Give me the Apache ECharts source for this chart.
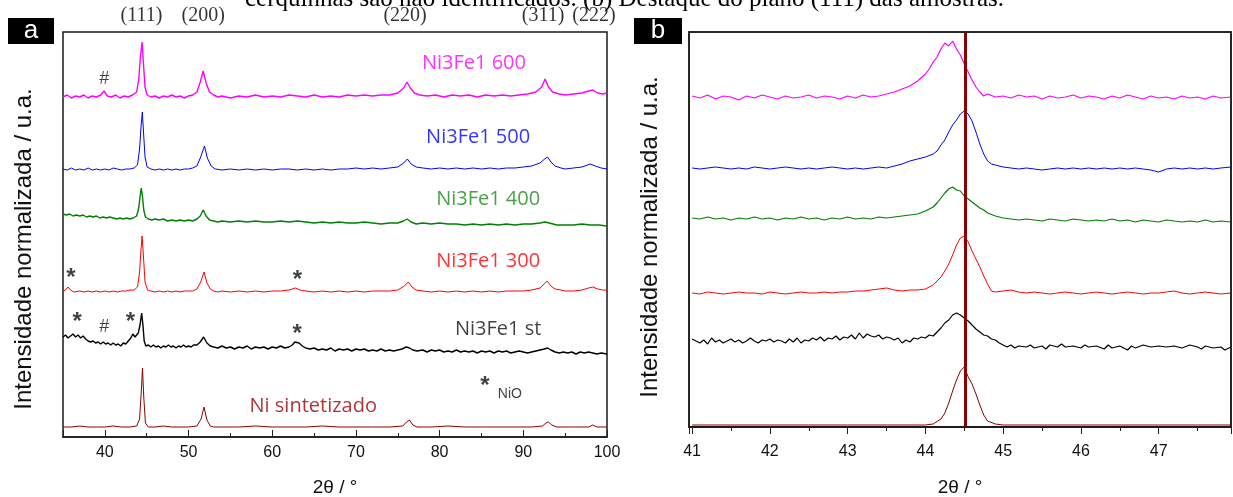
<!DOCTYPE html>
<html>
<head>
<meta charset="utf-8">
<script src="https://cdn.jsdelivr.net/npm/echarts@6/dist/echarts.min.js"></script>
<style>
  html, body { margin: 0; padding: 0; background: #fff; }
  #chart { width: 1233px; height: 497px; }
</style>
</head>
<body>
<div id="chart"></div>
<script>
// ---- panel a : full patterns (2theta, normalised intensity + offset) ----
var m600A = [[35,340],[35.5,342],[36,339],[36.5,341],[37,340],[37.5,342],[38,339],[38.5,341],[39,340],[39.5,342],[39.9,346],[40.3,341],[40.8,340],[41.3,342],[41.8,339],[42.3,341],[42.8,340],[43.3,342],[43.8,345],[44.05,358],[44.25,380],[44.45,395],[44.6,375],[44.8,350],[45.05,342],[45.5,340],[46,341],[46.5,339],[47,341],[47.5,340],[48,342],[48.5,340],[49,341],[49.5,339],[50,341],[50.5,342],[51,345],[51.4,355],[51.75,366],[52.1,354],[52.5,345],[53,342],[53.5,340],[54,341],[55,339],[56,341],[57,340],[58,342],[59,340],[60,341],[61,340],[62,342],[63,341],[64,340],[65,342],[66,340],[67,341],[68,340],[69,342],[70,341],[71,342],[72,341],[73,342],[74,342],[75,344],[75.7,349],[76.1,355],[76.5,349],[77,344],[77.6,342],[78.5,341],[79.5,342],[80.5,340],[81.5,342],[82.5,341],[83.5,342],[84.5,340],[85.5,342],[86.5,341],[87.5,342],[88.5,341],[89.5,342],[90.5,343],[91.5,345],[92.2,350],[92.6,358],[93,350],[93.5,345],[94.3,343],[95,342],[96,343],[97,344],[97.8,346],[98.3,347],[98.9,344],[99.5,343],[100,344]];
var b500A = [[35,268],[35.5,267],[36,269],[36.5,267],[37,268],[37.5,267],[38,269],[38.5,267],[39,268],[39.5,267],[40,268],[40.5,267],[41,269],[41.5,268],[42,267],[42.5,268],[43,268],[43.5,269],[43.9,272],[44.15,288],[44.32,310],[44.48,325],[44.62,305],[44.8,280],[45.05,270],[45.5,268],[46,267],[46.5,268],[47,267],[47.5,268],[48,267],[48.5,268],[49,267],[49.5,268],[50,268],[50.5,269],[51,271],[51.45,280],[51.9,291],[52.25,279],[52.7,271],[53.2,268],[54,267],[55,268],[56,267],[57,268],[58,267],[59,268],[60,267],[61,268],[62,268],[63,267],[64,268],[65,267],[66,268],[67,267],[68,268],[69,268],[70,269],[71,268],[72,269],[73,268],[74,269],[75,270],[75.7,274],[76.15,278],[76.6,273],[77.2,270],[78,269],[79,268],[80,269],[81,268],[82,269],[83,268],[84,269],[85,268],[86,269],[87,268],[88,269],[89,269],[90,270],[91,271],[92,274],[92.55,278],[92.9,280],[93.3,275],[93.8,271],[94.5,269],[95,268],[96,269],[97,270],[98,273],[98.6,271],[99.3,269],[100,268]];
var g400A = [[35,223],[35.4,222],[35.8,223],[36.2,221],[36.6,222],[37,221],[37.4,222],[37.8,220],[38.2,221],[38.6,220],[39,221],[39.4,219],[39.8,220],[40.2,219],[40.6,220],[41,219],[41.4,218],[41.8,219],[42.2,218],[42.6,219],[43,218],[43.4,219],[43.8,221],[44.05,229],[44.2,240],[44.35,249],[44.5,240],[44.65,227],[44.85,220],[45.2,218],[45.6,217],[46,218],[46.5,217],[47,218],[47.5,216],[48,217],[48.5,216],[49,217],[49.5,216],[50,217],[50.5,216],[51,218],[51.4,221],[51.75,227],[52.1,221],[52.5,217],[53,216],[53.5,215],[54,216],[55,215],[56,216],[57,215],[58,216],[59,215],[60,215],[61,216],[62,215],[63,216],[64,215],[65,214],[66,215],[67,214],[68,215],[69,214],[70,214],[71,215],[72,214],[73,213],[74,214],[75,214],[75.7,216],[76.1,218],[76.6,215],[77.2,213],[78,214],[79,213],[80,214],[81,213],[82,213],[83,212],[84,213],[85,212],[86,213],[87,212],[88,213],[89,212],[90,213],[91,213],[92,214],[92.6,215],[93.1,214],[94,212],[95,212],[96,212],[97,213],[98,212],[99,212],[100,211]];
var r300A = [[35,146],[35.3,147],[35.6,150],[35.9,147],[36.3,145],[37,146],[37.5,145],[38,146],[38.5,145],[39,146],[39.5,145],[40,146],[40.5,145],[41,146],[41.5,145],[42,146],[42.5,146],[43,147],[43.5,147],[43.9,150],[44.15,165],[44.3,185],[44.45,201],[44.6,182],[44.8,155],[45.1,147],[45.5,146],[46,145],[46.5,146],[47,145],[47.5,146],[48,145],[48.5,146],[49,145],[49.5,146],[50,146],[50.5,146],[51,148],[51.45,155],[51.85,165],[52.2,154],[52.6,148],[53,146],[53.5,145],[54,146],[55,145],[56,146],[57,145],[58,146],[59,145],[60,146],[61,146],[62,147],[62.8,149],[63.3,147],[64,146],[65,145],[66,146],[67,145],[68,146],[69,145],[70,146],[71,145],[72,146],[73,146],[74,146],[75,147],[75.8,151],[76.25,155],[76.7,150],[77.2,147],[78,146],[79,145],[80,146],[81,145],[82,146],[83,145],[84,146],[85,145],[86,146],[87,145],[88,146],[89,146],[90,146],[91,147],[92,149],[92.5,153],[92.85,156],[93.3,151],[93.8,148],[94.5,147],[95,146],[96,146],[97,147],[97.8,149],[98.3,150],[98.9,148],[99.5,147],[100,147]];
var stA = [[35,100],[35.3,102],[35.6,99],[35.9,101],[36.2,103],[36.5,100],[36.8,102],[37.1,99],[37.4,101],[37.7,98],[38,96],[38.3,95],[38.6,96],[38.9,94],[39.2,95],[39.5,93],[39.8,95],[40.1,93],[40.4,94],[40.7,92],[41,94],[41.3,92],[41.6,93],[41.9,91],[42.2,94],[42.5,93],[42.8,96],[43.1,99],[43.35,103],[43.6,100],[43.8,101],[44.0,104],[44.2,112],[44.4,124],[44.55,112],[44.7,96],[44.9,91],[45.2,92],[45.5,90],[45.8,92],[46.1,90],[46.4,91],[46.7,89],[47,91],[47.3,90],[47.6,92],[47.9,90],[48.2,91],[48.5,89],[48.8,91],[49.1,90],[49.4,92],[49.7,90],[50,91],[50.3,90],[50.6,92],[51,92],[51.4,95],[51.8,100],[52.2,94],[52.6,91],[53,90],[53.5,89],[54,91],[54.5,89],[55,90],[55.5,88],[56,90],[56.5,89],[57,91],[57.5,88],[58,90],[58.5,89],[59,90],[59.5,88],[60,90],[60.5,89],[61,91],[61.5,89],[62,90],[62.4,92],[62.7,95],[62.9,93],[63.2,94],[63.6,91],[64,89],[64.5,88],[65,89],[65.5,87],[66,88],[66.5,87],[67,89],[67.5,86],[68,88],[68.5,87],[69,88],[69.5,86],[70,88],[70.5,87],[71,88],[71.5,86],[72,87],[72.5,86],[73,88],[73.5,86],[74,87],[74.5,86],[75,87],[75.5,88],[76,90],[76.4,89],[76.8,87],[77.3,86],[78,87],[78.5,85],[79,87],[79.5,86],[80,87],[80.5,85],[81,86],[81.5,85],[82,87],[82.5,85],[83,86],[83.5,85],[84,86],[84.5,84],[85,86],[85.5,85],[86,86],[86.5,84],[87,86],[87.5,85],[88,86],[88.5,84],[89,85],[89.5,86],[90,85],[90.5,84],[91,85],[91.5,86],[92,87],[92.5,88],[92.9,89],[93.3,87],[93.8,85],[94.3,84],[94.8,85],[95.3,84],[95.8,85],[96.3,83],[96.8,85],[97.3,84],[97.8,85],[98.3,84],[98.8,83],[99.3,84],[100,83]];
var niA = [[35,10],[36,10],[37,11],[38,10],[39,10],[40,10],[41,11],[42,10],[43,10],[43.8,11],[44.15,18],[44.35,45],[44.5,69],[44.65,40],[44.85,14],[45.2,10],[46,10],[47,11],[48,10],[49,10],[50,10],[51,11],[51.5,18],[51.85,30],[52.2,17],[52.6,11],[53,10],[54,10],[56,10],[58,11],[60,10],[62,10],[64,10],[66,11],[68,10],[70,10],[72,10],[74,10],[75.6,11],[76.05,15],[76.4,17],[76.8,12],[77.3,10],[79,10],[81,11],[83,10],[85,10],[87,10],[89,10],[91,10],[92.3,11],[92.7,14],[93.0,15],[93.4,12],[94,10],[96,10],[97.8,10],[98.3,12],[98.8,10],[100,10]];

// ---- panel b : zoom on the (111) reflection ----
var m600B = [[41,331],[41.1,329],[41.2,332],[41.3,328],[41.4,331],[41.5,330],[41.6,327],[41.7,331],[41.8,329],[41.9,332],[42,330],[42.1,328],[42.2,331],[42.3,329],[42.4,330],[42.5,332],[42.6,329],[42.7,331],[42.8,330],[42.9,328],[43,331],[43.1,329],[43.2,332],[43.3,330],[43.4,331],[43.5,333],[43.6,335],[43.7,338],[43.8,341],[43.9,346],[44.0,353],[44.05,358],[44.1,365],[44.15,370],[44.2,378],[44.25,384],[44.3,381],[44.35,386],[44.4,378],[44.45,372],[44.5,363],[44.55,355],[44.6,347],[44.65,340],[44.7,335],[44.75,331],[44.8,333],[44.9,330],[45,331],[45.1,329],[45.2,332],[45.3,330],[45.4,331],[45.5,328],[45.6,331],[45.7,329],[45.8,330],[45.9,332],[46,329],[46.1,331],[46.2,330],[46.3,328],[46.4,331],[46.5,329],[46.6,332],[46.7,330],[46.8,328],[46.9,331],[47,329],[47.1,330],[47.2,328],[47.3,331],[47.4,329],[47.5,330],[47.6,328],[47.7,331],[47.8,329],[47.93,330]];
var b500B = [[41,259],[41.1,258],[41.2,259],[41.3,260],[41.4,259],[41.5,258],[41.6,259],[41.7,258],[41.8,260],[41.9,259],[42,258],[42.1,259],[42.2,260],[42.3,259],[42.4,258],[42.5,259],[42.6,258],[42.7,259],[42.8,260],[42.9,259],[43,258],[43.1,259],[43.2,258],[43.3,259],[43.4,260],[43.5,259],[43.6,261],[43.7,263],[43.8,266],[43.9,268],[44.0,270],[44.1,273],[44.15,276],[44.2,282],[44.25,287],[44.3,295],[44.35,302],[44.4,307],[44.45,313],[44.5,316],[44.55,313],[44.6,306],[44.65,295],[44.7,283],[44.75,273],[44.8,266],[44.85,263],[44.9,262],[45,260],[45.1,259],[45.2,258],[45.3,259],[45.4,258],[45.5,257],[45.6,258],[45.7,259],[45.8,258],[45.9,259],[46,258],[46.1,259],[46.2,258],[46.3,259],[46.4,258],[46.5,259],[46.6,258],[46.7,259],[46.8,258],[46.9,257],[47,255],[47.1,258],[47.2,259],[47.3,258],[47.4,259],[47.5,258],[47.6,259],[47.7,258],[47.8,259],[47.93,260]];
var g400B = [[41,209],[41.1,208],[41.2,210],[41.3,208],[41.4,209],[41.5,207],[41.6,209],[41.7,208],[41.8,210],[41.9,208],[42,209],[42.1,207],[42.2,209],[42.3,208],[42.4,210],[42.5,208],[42.6,209],[42.7,207],[42.8,209],[42.9,208],[43,210],[43.1,208],[43.2,209],[43.3,208],[43.4,210],[43.5,209],[43.6,210],[43.7,211],[43.8,212],[43.9,213],[44.0,216],[44.05,218],[44.1,220],[44.15,224],[44.2,229],[44.25,234],[44.3,238],[44.35,240],[44.4,237],[44.45,236],[44.5,231],[44.55,228],[44.6,225],[44.65,222],[44.7,219],[44.75,217],[44.8,214],[44.9,211],[45,209],[45.1,208],[45.2,207],[45.3,208],[45.4,207],[45.5,206],[45.6,208],[45.7,207],[45.8,206],[45.9,208],[46,207],[46.1,206],[46.2,207],[46.3,206],[46.4,208],[46.5,206],[46.6,207],[46.7,205],[46.8,207],[46.9,206],[47,205],[47.1,207],[47.2,206],[47.3,205],[47.4,206],[47.5,205],[47.6,207],[47.7,205],[47.8,206],[47.93,205]];
var r300B = [[41,134],[41.1,133],[41.2,135],[41.3,134],[41.4,133],[41.5,134],[41.6,135],[41.7,134],[41.8,134],[41.9,133],[42,135],[42.1,134],[42.2,133],[42.3,134],[42.4,135],[42.5,134],[42.6,134],[42.7,135],[42.8,134],[42.9,135],[43,135],[43.1,136],[43.2,136],[43.3,137],[43.4,138],[43.5,139],[43.6,137],[43.7,136],[43.8,137],[43.9,137],[44.0,138],[44.1,142],[44.2,150],[44.25,156],[44.3,163],[44.35,172],[44.4,182],[44.45,189],[44.5,191],[44.55,185],[44.6,176],[44.65,168],[44.7,160],[44.75,151],[44.8,143],[44.85,136],[44.9,135],[45,136],[45.1,137],[45.2,135],[45.3,134],[45.4,135],[45.5,134],[45.6,133],[45.7,134],[45.8,135],[45.9,134],[46,133],[46.1,134],[46.2,135],[46.3,134],[46.4,133],[46.5,134],[46.6,135],[46.7,134],[46.8,133],[46.9,134],[47,134],[47.1,135],[47.2,136],[47.3,134],[47.4,133],[47.5,134],[47.6,135],[47.7,134],[47.8,133],[47.93,134]];
var stB = [[41,88],[41.05,86],[41.1,84],[41.15,87],[41.2,83],[41.25,89],[41.3,85],[41.35,87],[41.4,84],[41.45,86],[41.5,88],[41.55,85],[41.6,87],[41.65,84],[41.7,86],[41.75,89],[41.8,86],[41.85,84],[41.9,87],[41.95,86],[42,88],[42.05,85],[42.1,87],[42.15,86],[42.2,84],[42.25,88],[42.3,85],[42.35,89],[42.4,84],[42.45,87],[42.5,86],[42.55,89],[42.6,87],[42.65,90],[42.7,86],[42.75,89],[42.8,88],[42.85,91],[42.9,87],[42.95,90],[43,89],[43.05,92],[43.1,88],[43.15,94],[43.2,89],[43.25,93],[43.3,91],[43.35,90],[43.4,92],[43.45,88],[43.5,90],[43.55,89],[43.6,87],[43.65,89],[43.7,84],[43.75,87],[43.8,85],[43.85,89],[43.9,88],[43.95,90],[44,89],[44.05,92],[44.1,91],[44.15,95],[44.2,99],[44.25,104],[44.3,107],[44.35,112],[44.4,114],[44.45,112],[44.5,109],[44.55,106],[44.6,102],[44.65,98],[44.7,95],[44.75,92],[44.8,91],[44.85,88],[44.9,87],[44.95,84],[45,82],[45.05,80],[45.1,82],[45.15,79],[45.2,81],[45.3,80],[45.35,82],[45.4,79],[45.5,81],[45.55,78],[45.6,82],[45.7,80],[45.75,83],[45.8,80],[45.9,81],[46,79],[46.05,82],[46.1,80],[46.2,81],[46.3,78],[46.35,82],[46.4,79],[46.5,81],[46.6,77],[46.65,81],[46.7,79],[46.8,82],[46.9,80],[47,81],[47.1,80],[47.2,81],[47.3,79],[47.4,82],[47.5,80],[47.55,78],[47.6,81],[47.7,79],[47.8,80],[47.85,77],[47.93,80]];
var niB = [[41,2],[41.5,2],[42,2],[42.5,2],[43,2],[43.5,2],[44,2],[44.1,3],[44.2,8],[44.25,14],[44.3,24],[44.35,36],[44.4,47],[44.45,56],[44.5,60],[44.55,50],[44.6,43],[44.65,33],[44.7,22],[44.75,12],[44.8,6],[44.9,3],[45,2],[45.5,2],[46,2],[46.5,2],[47,2],[47.5,2],[47.93,2]];
var refLine = 44.51;

var seriesNames = ['Ni3Fe1 600', 'Ni3Fe1 500', 'Ni3Fe1 400', 'Ni3Fe1 300', 'Ni3Fe1 st', 'Ni sintetizado'];
var seriesColors = ['#ff00ff', '#0000ff', '#008000', '#ff0000', '#000000', '#8b0000'];
var labelColors = ['#ff00ff', '#0000ff', '#1a8a1a', '#ff0000', '#111111', '#990000'];
var seriesA = [m600A, b500A, g400A, r300A, stA, niA];
var seriesB = [m600B, b500B, g400B, r300B, stB, niB];
var labelPosA = [[84.1, 374], [84.6, 300], [85.8, 238], [85.8, 176], [87.0, 108], [64.9, 31]];

// phase marks: text, 2theta, y
var marksA = [['#', 39.93, 358], ['*', 35.95, 159], ['*', 63.0, 157], ['*', 36.7, 115], ['#', 39.93, 110], ['*', 43.05, 115], ['*', 62.97, 103], ['*', 85.4, 51]];
var millerLabels = ['(111)', '(200)', '(220)', '(311)', '(222)'];
var millerPos = [44.37, 51.75, 75.87, 92.36, 98.45];

var chart = echarts.init(document.getElementById('chart'), null, { renderer: 'canvas' });

var axisFont = 'Liberation Sans, Arial, sans-serif';
var sampleFont = 'Open Sans, sans-serif';
var frameColor = '#1a1a1a';

function xAxisCfg(idx, min, max, inside, margin, gap) {
    return {
        type: 'value', gridIndex: idx, min: min, max: max, splitNumber: 7,
        name: '2θ / °', nameLocation: 'middle', nameGap: gap,
        nameTextStyle: { fontFamily: axisFont, fontSize: 19, color: '#111' },
        axisLine: { lineStyle: { color: frameColor, width: 1.5 } },
        axisTick: { inside: inside, length: 7, lineStyle: { color: '#222' } },
        minorTick: { show: true, splitNumber: 2, length: 4, lineStyle: { color: '#222' } },
        axisLabel: {
            margin: margin, fontFamily: axisFont, fontSize: 16, color: '#111',
            showMinLabel: false,
            formatter: function(v) { return Math.abs(v - Math.round(v)) < 1e-6 ? String(Math.round(v)) : ''; }
        },
        splitLine: { show: false }
    };
}
function yAxisCfg(idx, max) {
    return { type: 'value', gridIndex: idx, min: 0, max: max, show: false };
}

var series = [];
seriesA.forEach(function(d, i) {
    series.push({
        name: seriesNames[i], type: 'line', xAxisIndex: 0, yAxisIndex: 0, data: d,
        showSymbol: false, symbol: 'none', animation: false,
        lineStyle: { color: seriesColors[i], width: (i === 0 || i === 2 || i === 4) ? 1.4 : 1 }
    });
});
seriesB.forEach(function(d, i) {
    var s = {
        name: seriesNames[i] + ' b', type: 'line', xAxisIndex: 1, yAxisIndex: 1, data: d,
        showSymbol: false, symbol: 'none', animation: false,
        lineStyle: { color: seriesColors[i], width: (i === 0 || i === 2 || i === 4) ? 1.2 : 1 }
    };
    if (i === 5) {
        // vertical reference line at the Ni (111) position
        s.markLine = {
            silent: true, symbol: 'none', animation: false, label: { show: false },
            lineStyle: { color: '#8b0000', width: 3, type: 'solid' },
            data: [{ xAxis: refLine }]
        };
    }
    series.push(s);
});
// sample names
series.push({
    type: 'scatter', xAxisIndex: 0, yAxisIndex: 0, symbolSize: 0, clip: false, silent: true, animation: false,
    data: seriesNames.map(function(n, i) {
        return { value: labelPosA[i], label: { show: true, position: 'inside', formatter: n,
            color: labelColors[i], fontSize: 20, fontFamily: sampleFont } };
    })
});
// phase marks
series.push({
    type: 'scatter', xAxisIndex: 0, yAxisIndex: 0, symbolSize: 0, clip: false, silent: true, animation: false,
    data: marksA.map(function(m) {
        var star = m[0] === '*';
        return { value: [m[1], m[2]], label: { show: true, position: 'inside', formatter: m[0],
            color: '#111', fontSize: star ? 24 : 18, fontWeight: star ? 'bold' : 'normal',
            fontFamily: axisFont } };
    }).concat([{ value: [88.4, 43], label: { show: true, position: 'inside', formatter: 'NiO',
            color: '#111', fontSize: 14, fontFamily: axisFont } }])
});
// Miller indices above panel a
series.push({
    type: 'scatter', xAxisIndex: 0, yAxisIndex: 0, symbolSize: 0, clip: false, silent: true, animation: false,
    data: millerLabels.map(function(t, i) {
        return { value: [millerPos[i], 421], label: { show: true, position: 'inside', formatter: t,
            color: '#000', fontSize: 20, fontFamily: 'Liberation Serif, Times New Roman, serif' } };
    })
});

var option = {
    backgroundColor: '#fff',
    animation: false,
    grid: [
        { left: 63, top: 32, right: 626, bottom: 60, outerBoundsMode: 'none', containLabel: false,
          show: true, borderColor: frameColor, borderWidth: 1.5 },
        { left: 689, top: 32, right: 2, bottom: 70, outerBoundsMode: 'none', containLabel: false,
          show: true, borderColor: frameColor, borderWidth: 1.5 }
    ],
    xAxis: [
        xAxisCfg(0, 35, 100, true, 8, 41),
        xAxisCfg(1, 40.96, 47.93, false, 17, 51)
    ],
    yAxis: [yAxisCfg(0, 405), yAxisCfg(1, 395)],
    graphic: [
        { type: 'text', x: 245, y: 12, style: { text: 'cerquinhas são não identificados. (b) Destaque do plano (111) das amostras.',
            font: '25px "Liberation Serif", serif', fill: '#000', textVerticalAlign: 'bottom' } },
        // frame of panel b (top / right edges)
        { type: 'rect', z: 10, shape: { x: 689, y: 32, width: 542, height: 395 },
            style: { fill: 'none', stroke: frameColor, lineWidth: 1.5 } },
        { type: 'rect', shape: { x: 8, y: 18, width: 46, height: 26 }, style: { fill: '#000' } },
        { type: 'text', x: 31, y: 31, style: { text: 'a', font: '26px "Liberation Sans", Arial, sans-serif', fill: '#fff',
            textAlign: 'center', textVerticalAlign: 'middle' } },
        { type: 'rect', shape: { x: 634, y: 18, width: 48, height: 26 }, style: { fill: '#000' } },
        { type: 'text', x: 658, y: 31, style: { text: 'b', font: '26px "Liberation Sans", Arial, sans-serif', fill: '#fff',
            textAlign: 'center', textVerticalAlign: 'middle' } },
        { type: 'text', x: 24, y: 249, rotation: Math.PI / 2, style: { text: 'Intensidade normalizada / u.a.',
            font: '24px "Liberation Sans", Arial, sans-serif', fill: '#111', textAlign: 'center', textVerticalAlign: 'middle' } },
        { type: 'text', x: 650, y: 237, rotation: Math.PI / 2, style: { text: 'Intensidade normalizada / u.a.',
            font: '24px "Liberation Sans", Arial, sans-serif', fill: '#111', textAlign: 'center', textVerticalAlign: 'middle' } }
    ],
    series: series
};
chart.setOption(option);
</script>
</body>
</html>
